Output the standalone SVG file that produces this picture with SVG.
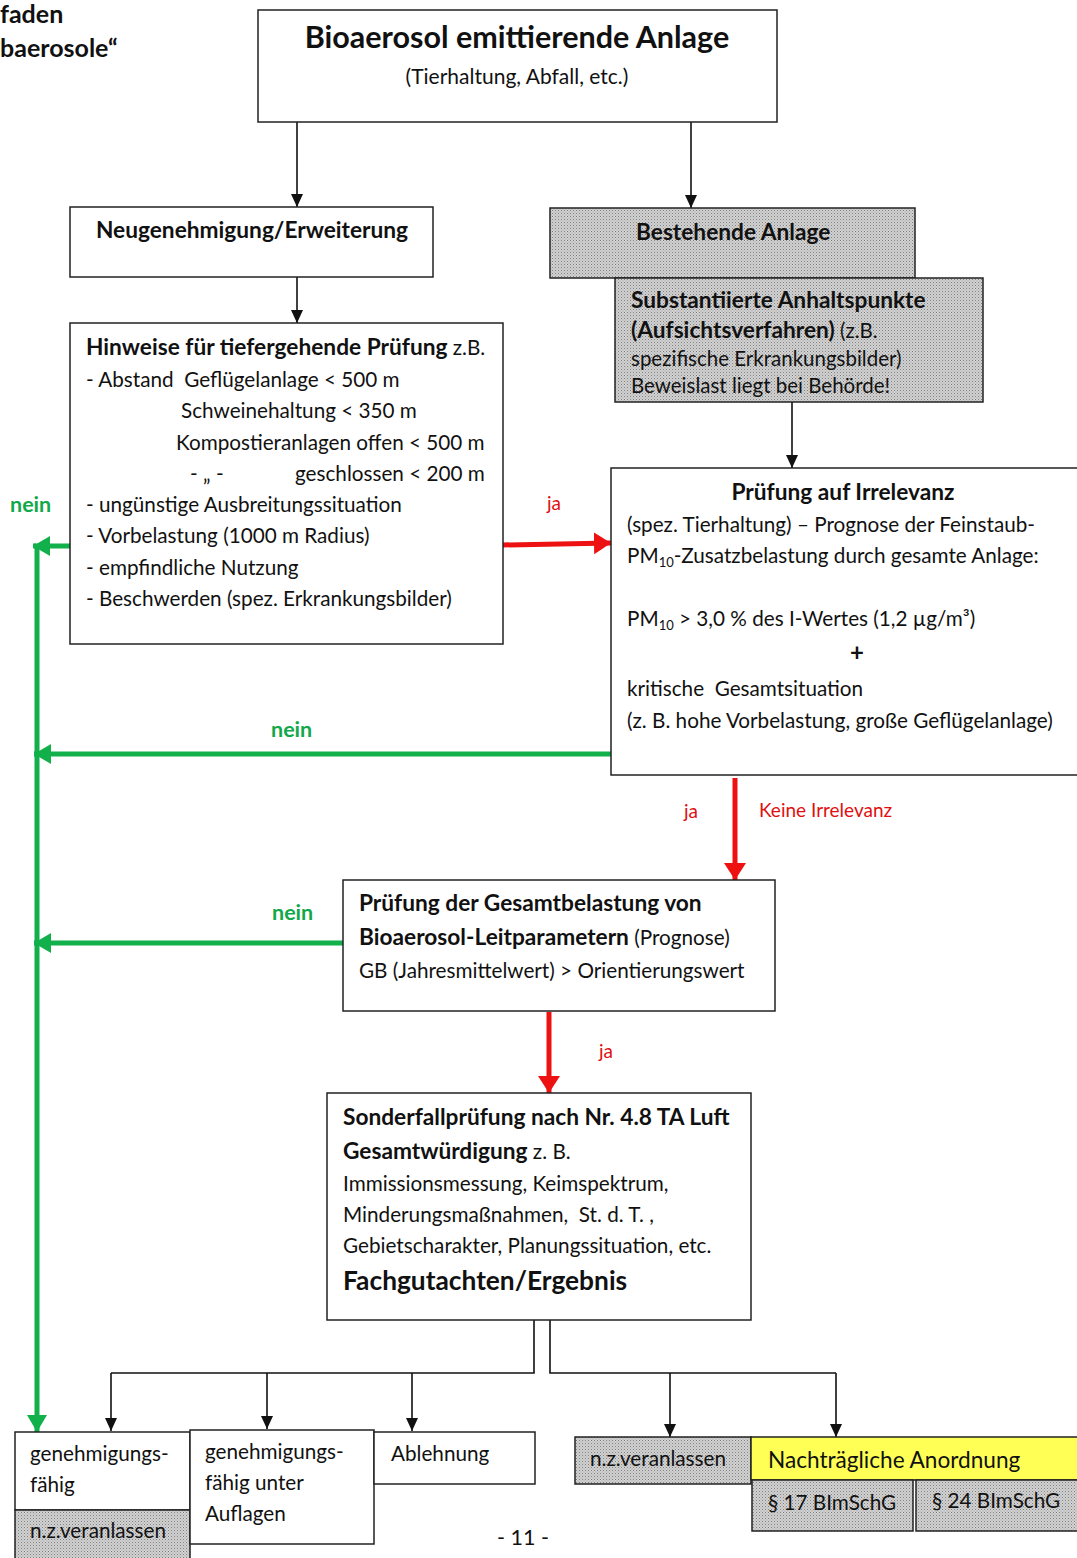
<svg xmlns="http://www.w3.org/2000/svg" width="1077" height="1558" viewBox="0 0 1077 1558">
  <style>
    text { font-family: Lato, "Open Sans", "DejaVu Sans", sans-serif; fill: #111; white-space: pre; }
    .b { font-weight: bold; }
    .t { font-size: 20.7px; }
    .h { font-weight: bold; font-size: 22.7px; }
    .box { fill: #fff; stroke: #222; stroke-width: 1.5; }
    .grey { fill: url(#dots); stroke: #222; stroke-width: 1.5; }
    .yel { fill: #ffff55; stroke: #222; stroke-width: 1.5; }
    .blk { stroke: #111; stroke-width: 1.6; fill: none; }
    .red { stroke: #ee1111; stroke-width: 5; fill: none; }
    .grn { stroke: #11b04a; stroke-width: 5; fill: none; }
    .lr { fill: #e01010; font-size: 19px; }
    .lg { fill: #11a84a; font-size: 21.5px; font-weight: bold; }
  </style>
  <defs>
    <pattern id="dots" width="3" height="3" patternUnits="userSpaceOnUse">
      <rect width="3" height="3" fill="#d2d2d2"/>
      <rect width="1" height="1" fill="#808080"/>
      <rect x="1.5" y="1.5" width="1" height="1" fill="#9a9a9a"/>
    </pattern>
    <marker id="ab" markerUnits="userSpaceOnUse" markerWidth="14" markerHeight="14" refX="13" refY="7" orient="auto">
      <path d="M0,1 L13,7 L0,13 Z" fill="#111"/>
    </marker>
    <marker id="ar" markerUnits="userSpaceOnUse" markerWidth="18" markerHeight="24" refX="17" refY="12" orient="auto">
      <path d="M0,1 L17,12 L0,23 Z" fill="#ee1111"/>
    </marker>
    <marker id="ag" markerUnits="userSpaceOnUse" markerWidth="18" markerHeight="22" refX="17" refY="11" orient="auto">
      <path d="M0,1 L17,11 L0,21 Z" fill="#11b04a"/>
    </marker>
  </defs>

  <!-- page header fragments -->
  <text class="b" x="0" y="23" font-size="25">faden</text>
  <text class="b" x="0" y="57" font-size="25">baerosole“</text>

  <!-- connectors -->
  <g id="connectors">
    <line class="blk" x1="297" y1="122" x2="297" y2="207" marker-end="url(#ab)"/>
    <line class="blk" x1="691" y1="122" x2="691" y2="208" marker-end="url(#ab)"/>
    <line class="blk" x1="297" y1="277" x2="297" y2="323" marker-end="url(#ab)"/>
    <line class="blk" x1="792" y1="402" x2="792" y2="468" marker-end="url(#ab)"/>

    <line class="red" x1="502" y1="545" x2="611" y2="543" marker-end="url(#ar)"/>
    <line class="red" x1="735" y1="778" x2="735" y2="880" marker-end="url(#ar)"/>
    <line class="red" x1="549" y1="1012" x2="549" y2="1093" marker-end="url(#ar)"/>

    <polyline class="grn" points="70,546 37,546 37,1432" marker-end="url(#ag)"/>
    <line class="grn" x1="36" y1="546" x2="33" y2="546" marker-end="url(#ag)"/>
    <line class="grn" x1="611" y1="754" x2="34" y2="754" marker-end="url(#ag)"/>
    <line class="grn" x1="343" y1="943" x2="34" y2="943" marker-end="url(#ag)"/>

    <polyline class="blk" points="534,1320 534,1373 111,1373"/>
    <line class="blk" x1="111" y1="1373" x2="111" y2="1431" marker-end="url(#ab)"/>
    <line class="blk" x1="267" y1="1373" x2="267" y2="1429" marker-end="url(#ab)"/>
    <line class="blk" x1="412" y1="1373" x2="412" y2="1431" marker-end="url(#ab)"/>
    <polyline class="blk" points="550,1320 550,1373 836,1373"/>
    <line class="blk" x1="670" y1="1373" x2="670" y2="1437" marker-end="url(#ab)"/>
    <line class="blk" x1="836" y1="1373" x2="836" y2="1437" marker-end="url(#ab)"/>

    <text class="lr" x="547" y="510">ja</text>
    <text class="lr" x="684" y="818">ja</text>
    <text class="lr" x="759" y="817" font-size="17.8">Keine Irrelevanz</text>
    <text class="lr" x="599" y="1058">ja</text>
    <text class="lg" x="10" y="512">nein</text>
    <text class="lg" x="271" y="737">nein</text>
    <text class="lg" x="272" y="920">nein</text>
  </g>

  <g id="anlage">
    <rect class="box" x="258" y="10" width="519" height="112"/>
    <text class="b" x="517" y="48" font-size="30.5" text-anchor="middle">Bioaerosol emittierende Anlage</text>
    <text x="517" y="84" font-size="21" text-anchor="middle">(Tierhaltung, Abfall, etc.)</text>
  </g>

  <g id="neu">
    <rect class="box" x="70" y="207" width="363" height="70"/>
    <text class="h" x="252" y="238" text-anchor="middle">Neugenehmigung/Erweiterung</text>
  </g>

  <g id="hinweise">
    <rect class="box" x="70" y="323" width="433" height="321"/>
    <text class="t" x="86" y="355"><tspan class="h">Hinweise für tiefergehende Prüfung</tspan> z.B.</text>
    <text class="t" x="86" y="387">- Abstand  Geflügelanlage &lt; 500 m</text>
    <text class="t" x="181" y="418">Schweinehaltung &lt; 350 m</text>
    <text class="t" x="176" y="450">Kompostieranlagen offen &lt; 500 m</text>
    <text class="t" x="190" y="481">- „ -</text>
    <text class="t" x="295" y="481">geschlossen &lt; 200 m</text>
    <text class="t" x="86" y="512">- ungünstige Ausbreitungssituation</text>
    <text class="t" x="86" y="543">- Vorbelastung (1000 m Radius)</text>
    <text class="t" x="86" y="575">- empfindliche Nutzung</text>
    <text class="t" x="86" y="606">- Beschwerden (spez. Erkrankungsbilder)</text>
  </g>

  <g id="bestehend">
    <rect class="grey" x="550" y="208" width="365" height="70"/>
    <text class="h" x="636" y="240">Bestehende Anlage</text>
  </g>

  <g id="anhaltspunkte">
    <rect class="grey" x="615" y="278" width="368" height="124"/>
    <text class="h" x="631" y="308">Substantiierte Anhaltspunkte</text>
    <text x="631" y="338" font-size="20.5"><tspan class="h">(Aufsichtsverfahren)</tspan> (z.B.</text>
    <text x="631" y="366" font-size="20.5">spezifische Erkrankungsbilder)</text>
    <text x="631" y="393" font-size="20.5">Beweislast liegt bei Behörde!</text>
  </g>

  <g id="irrelevanz">
    <rect class="box" x="611" y="468" width="470" height="307"/>
    <text class="h" x="843" y="500" text-anchor="middle">Prüfung auf Irrelevanz</text>
    <text class="t" x="627" y="532">(spez. Tierhaltung) – Prognose der Feinstaub-</text>
    <text class="t" x="627" y="563">PM<tspan font-size="13" dy="4">10</tspan><tspan dy="-4">-Zusatzbelastung durch gesamte Anlage:</tspan></text>
    <text class="t" x="627" y="626">PM<tspan font-size="13" dy="4">10</tspan><tspan dy="-4"> &gt; 3,0 % des I-Wertes (1,2 µg/m³)</tspan></text>
    <text class="b" x="857" y="661" font-size="24" text-anchor="middle">+</text>
    <text class="t" x="627" y="696">kritische  Gesamtsituation</text>
    <text class="t" x="627" y="728">(z. B. hohe Vorbelastung, große Geflügelanlage)</text>
  </g>

  <g id="gesamtbelastung">
    <rect class="box" x="343" y="880" width="432" height="131"/>
    <text class="h" x="359" y="911">Prüfung der Gesamtbelastung von</text>
    <text class="t" x="359" y="945"><tspan class="h">Bioaerosol-Leitparametern</tspan> (Prognose)</text>
    <text class="t" x="359" y="978">GB (Jahresmittelwert) &gt; Orientierungswert</text>
  </g>

  <g id="sonderfall">
    <rect class="box" x="327" y="1093" width="424" height="227"/>
    <text class="h" x="343" y="1125">Sonderfallprüfung nach Nr. 4.8 TA Luft</text>
    <text class="t" x="343" y="1159"><tspan class="h">Gesamtwürdigung</tspan> z. B.</text>
    <text class="t" x="343" y="1191">Immissionsmessung, Keimspektrum,</text>
    <text class="t" x="343" y="1222">Minderungsmaßnahmen,  St. d. T. ,</text>
    <text class="t" x="343" y="1253">Gebietscharakter, Planungssituation, etc.</text>
    <text class="b" x="343" y="1290" font-size="26.3">Fachgutachten/Ergebnis</text>
  </g>

  <g id="genehmigungsfaehig">
    <rect class="box" x="15" y="1432" width="175" height="78"/>
    <text class="t" x="30" y="1461">genehmigungs-</text>
    <text class="t" x="30" y="1492">fähig</text>
  </g>
  <g id="nzv-links">
    <rect class="grey" x="15" y="1510" width="175" height="50"/>
    <text class="t" x="30" y="1538">n.z.veranlassen</text>
  </g>
  <g id="auflagen">
    <rect class="box" x="190" y="1430" width="184" height="114"/>
    <text class="t" x="205" y="1459">genehmigungs-</text>
    <text class="t" x="205" y="1490">fähig unter</text>
    <text class="t" x="205" y="1521">Auflagen</text>
  </g>
  <g id="ablehnung">
    <rect class="box" x="374" y="1432" width="161" height="52"/>
    <text class="t" x="391" y="1461">Ablehnung</text>
  </g>
  <g id="nzv-rechts">
    <rect class="grey" x="575" y="1437" width="176" height="47"/>
    <text class="t" x="590" y="1466">n.z.veranlassen</text>
  </g>
  <g id="anordnung">
    <rect class="yel" x="751" y="1437" width="330" height="43"/>
    <text x="768" y="1468" font-size="22.6">Nachträgliche Anordnung</text>
  </g>
  <g id="par17">
    <rect class="grey" x="752" y="1480" width="161" height="51"/>
    <text class="t" x="768" y="1510" font-size="20">§ 17 BImSchG</text>
  </g>
  <g id="par24">
    <rect class="grey" x="916" y="1480" width="165" height="51"/>
    <text class="t" x="932" y="1508" font-size="20">§ 24 BImSchG</text>
  </g>

  <text x="523" y="1545" font-size="21.5" text-anchor="middle">- 11 -</text>
</svg>
